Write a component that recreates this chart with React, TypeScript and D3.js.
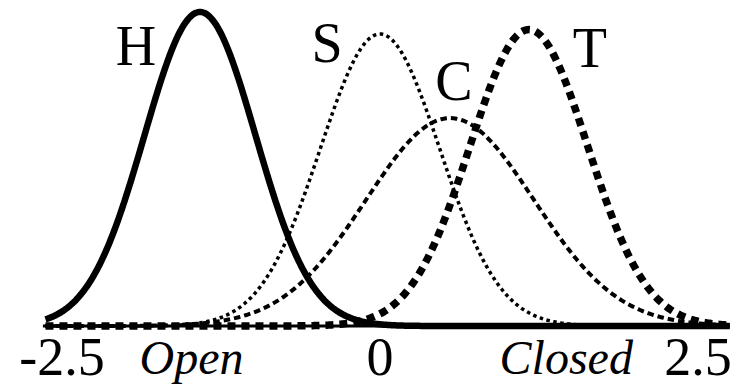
import React from "react";
import * as d3 from "d3";

// Four normal distributions along the open–closed axis
const categories = ["H", "S", "C", "T"];
const means = [-1.415, 0.0, 0.55, 1.17];
const sds = [0.437, 0.47, 0.66, 0.463];

const tickValues = [-2.5, 0, 2.5];
const tickLabels = ["-2.5", "0", "2.5"];
const poleLabels = ["Open", "Closed"];
const poleValues = [-1.89, 0.94];

const W = 744;
const H = 387;

// stroke style per curve: solid, fine dots, medium dashes, heavy dashes
const curveStyles = [
  { width: 6.5, dash: "none" },
  { width: 3.5, dash: "3.5 3.5" },
  { width: 4, dash: "6.5 4" },
  { width: 7.5, dash: "8 6" },
];
// letter offsets (px) from each curve's peak; baseline y in px
const letterLayout = [
  { dx: -64, y: 65 },
  { dx: -53, y: 62 },
  { dx: 4, y: 100 },
  { dx: 61, y: 67 },
];

const x = d3.scaleLinear().domain([-2.5, 2.5]).range([62, 698]);
const y = d3.scaleLinear().domain([0, 0.95]).range([326, 326 - 0.95 * 344]);

const xMin = -2.63;
const xMax = 2.75;

function normalPdf(v: number, mu: number, sd: number) {
  const z = (v - mu) / sd;
  return Math.exp(-0.5 * z * z) / (sd * Math.sqrt(2 * Math.PI));
}

const samples = d3.range(xMin, xMax + 0.0001, 0.01);

const line = d3
  .line<[number, number]>()
  .x((d) => x(d[0]))
  .y((d) => y(d[1]))
  .curve(d3.curveBasis);

const serif =
  "'Times New Roman', Times, Tinos, 'Liberation Serif', 'Noto Serif', 'DejaVu Serif', serif";

export default function App() {
  return (
    <svg
      width={W}
      height={H}
      viewBox={`0 0 ${W} ${H}`}
      style={{ position: "absolute", left: 0, top: 0, background: "#fff" }}
    >
      <rect x={0} y={0} width={W} height={H} fill="#fff" />
      <line
        x1={x(-2.65)}
        x2={x(2.75)}
        y1={y(0)}
        y2={y(0)}
        stroke="#000"
        strokeWidth={3}
      />
      {categories.map((c, i) => {
        const pts: [number, number][] = samples.map((v) => [
          v,
          normalPdf(v, means[i], sds[i]),
        ]);
        const st = curveStyles[i];
        return (
          <path
            key={c}
            d={line(pts) || ""}
            fill="none"
            stroke="#000"
            strokeWidth={st.width}
            strokeDasharray={st.dash}
            strokeLinecap="butt"
            strokeLinejoin="round"
          />
        );
      })}
      {categories.map((c, i) => (
        <text
          key={"lbl" + c}
          x={x(means[i]) + letterLayout[i].dx}
          y={letterLayout[i].y}
          textAnchor="middle"
          style={{ fontFamily: serif, fontSize: "56px" }}
          fill="#000"
        >
          {c}
        </text>
      ))}
      {tickValues.map((t, i) => (
        <text
          key={"t" + i}
          x={x(t)}
          y={375}
          textAnchor="middle"
          style={{ fontFamily: serif, fontSize: "54px" }}
          fill="#000"
        >
          {tickLabels[i]}
        </text>
      ))}
      {poleLabels.map((p, i) => (
        <text
          key={"p" + i}
          x={x(poleValues[i])}
          y={374}
          textAnchor="start"
          style={{ fontFamily: serif, fontSize: "48px", fontStyle: "italic" }}
          fill="#000"
        >
          {p}
        </text>
      ))}
    </svg>
  );
}
